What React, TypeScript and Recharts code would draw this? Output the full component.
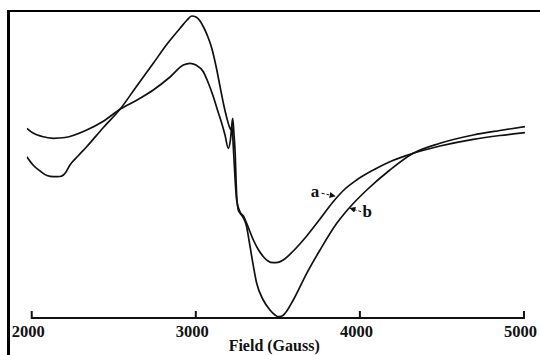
import { Line, LineChart, ReferenceDot, ReferenceLine, XAxis, YAxis } from 'recharts';

// EPR spectra, field in Gauss, signal in arbitrary units (0 = axis baseline)
const fieldA = [
  1970, 2008, 2063, 2132, 2203, 2335, 2434, 2538, 2642, 2741, 2843, 2924, 2965, 3001, 3046, 3074,
  3107, 3132, 3158, 3178, 3198, 3211, 3220, 3229, 3239, 3249, 3269, 3290, 3310, 3351, 3379, 3412,
  3440, 3472, 3501, 3533, 3594, 3676, 3757, 3836, 3909, 3980, 4082, 4183, 4325, 4488, 4691, 4853, 5006,
];
const signalA = [
  189.7, 185, 181.5, 179.7, 180.5, 188, 196.5, 208.7, 218, 228, 241, 253, 254.7, 253, 246.3, 236,
  221.3, 208, 194.7, 183, 169.7, 178, 192, 170, 140, 118, 106.3, 102, 94.7, 78, 69, 61.3,
  57, 55.3, 55.7, 58, 67, 82, 99, 116, 129, 138, 148, 156.3, 164.7, 172, 178.7, 182.5, 185.3,
];

const fieldB = [
  1970, 2008, 2051, 2093, 2132, 2172, 2193, 2209, 2233, 2282, 2335, 2434, 2538, 2636, 2741, 2825,
  2904, 2947, 2975, 3001, 3026, 3050, 3074, 3097, 3123, 3148, 3169, 3189, 3203, 3215, 3225, 3233,
  3239, 3249, 3259, 3269, 3290, 3310, 3324, 3341, 3371, 3411, 3452, 3483, 3503, 3526, 3544, 3594,
  3676, 3757, 3859, 3940, 4042, 4183, 4325, 4488, 4691, 4853, 5006,
];
const signalB = [
  161.3, 153, 147, 142.5, 141.3, 141.5, 143, 146, 153, 162, 171.3, 190, 208.7, 231, 254.7, 274,
  289.7, 298, 302, 301, 297, 290, 281, 270, 252, 231.3, 214, 200, 192, 188, 199.7, 183,
  168, 123, 108, 105, 100, 91.3, 78, 61.3, 34.7, 18, 8, 3, 1.3, 2, 4.7, 18,
  44.7, 68, 94.7, 111, 128, 148, 164.7, 174.7, 183, 187.5, 191.3,
];

const fieldTicks = [2000, 3000, 4000, 5000];

const seriesA = fieldA.map((field, i) => ({ field, value: signalA[i] }));
const seriesB = fieldB.map((field, i) => ({ field, value: signalB[i] }));

const font = '"Liberation Serif", "Times New Roman", serif';

const FieldTick = ({ x, y, payload }: any) => (
  <g>
    <line x1={x} y1={y - 7} x2={x} y2={y + 1} stroke="#111" strokeWidth={2} />
    <text x={x - 3.5} y={y + 18.5} textAnchor="middle" fontFamily={font} fontWeight="bold" fontSize={16.5} fill="#111">
      {payload.value}
    </text>
  </g>
);

const letter = (value: string) => (props: any) => (
  <text x={props.cx} y={props.cy} textAnchor="middle" fontFamily={font} fontWeight="bold" fontSize={17} fill="#111">
    {value}
  </text>
);

const arrow = (props: any) => (
  <line
    x1={props.x1}
    y1={props.y1}
    x2={props.x2}
    y2={props.y2}
    stroke="#111"
    strokeWidth={1}
    strokeDasharray="3 2"
    markerEnd="url(#arrowHead)"
  />
);

export default function App() {
  return (
    <div style={{ position: 'fixed', left: 0, top: 0, width: 540, height: 355, overflow: 'hidden', background: '#fff' }}>
      <svg width={0} height={0} style={{ position: 'absolute' }}>
        <defs>
          <marker id="arrowHead" markerWidth={6} markerHeight={6} refX={5} refY={3} orient="auto" markerUnits="userSpaceOnUse">
            <path d="M0,0 L6,3 L0,6 z" fill="#111" />
          </marker>
        </defs>
      </svg>
      <div
        style={{
          position: 'absolute',
          left: 7,
          top: 10,
          width: 560,
          height: 400,
          borderTop: '2.5px solid #000',
          borderLeft: '3px solid #000',
        }}
      />
      <div style={{ position: 'absolute', left: 0, top: 0 }}>
        <LineChart width={540} height={355} margin={{ top: 8, right: 14.4, bottom: 0, left: 26.8 }}>
          <XAxis
            dataKey="field"
            type="number"
            domain={[1970, 5010]}
            allowDataOverflow
            ticks={fieldTicks}
            interval={0}
            axisLine={false}
            tickLine={false}
            tickSize={0}
            tickMargin={0}
            height={37}
            tick={<FieldTick />}
            label={{
              value: 'Field (Gauss)',
              position: 'insideBottom',
              offset: 4.5,
              dx: -2,
              style: { fontFamily: font, fontWeight: 'bold', fontSize: 16, fill: '#111' },
            }}
          />
          <YAxis hide type="number" domain={[0, 310]} allowDataOverflow />
          <ReferenceLine
            segment={[
              { x: 2000, y: 0 },
              { x: 5000, y: 0 },
            ]}
            stroke="#111"
            strokeWidth={2}
          />
          <Line data={seriesA} dataKey="value" type="monotone" dot={false} stroke="#111" strokeWidth={1.7} isAnimationActive={false} />
          <Line data={seriesB} dataKey="value" type="monotone" dot={false} stroke="#111" strokeWidth={1.7} isAnimationActive={false} />
          <ReferenceLine
            segment={[
              { x: 3767, y: 124.7 },
              { x: 3846, y: 122 },
            ]}
            shape={arrow}
          />
          <ReferenceLine
            segment={[
              { x: 4008, y: 106.3 },
              { x: 3942, y: 109.7 },
            ]}
            shape={arrow}
          />
          <ReferenceDot x={3726} y={121.3} r={0} shape={letter('a')} />
          <ReferenceDot x={4045} y={101.3} r={0} shape={letter('b')} />
        </LineChart>
      </div>
    </div>
  );
}
